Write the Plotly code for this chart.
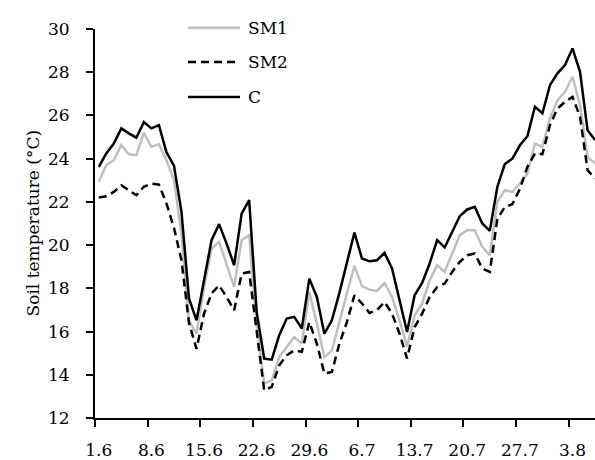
import plotly.graph_objects as go

# Dates (day.month), one value per day from 1.6 to 6.8
tick_labels = ["1.6", "8.6", "15.6", "22.6", "29.6", "6.7", "13.7", "20.7", "27.7", "3.8"]

sm1 = [22.93, 23.7, 23.93, 24.63, 24.2, 24.16, 25.2, 24.55, 24.67, 23.93,
       23.0, 20.5, 16.5, 15.9, 18.06, 19.84, 20.15, 19.15, 18.06, 20.23,
       20.46, 16.3, 13.59, 13.74, 14.82, 15.29, 15.75, 15.44, 17.83, 16.37,
       14.82, 15.13, 16.48, 17.76, 19.04, 18.1, 17.94, 17.88, 18.25, 17.6,
       16.52, 15.29, 16.75, 17.3, 18.37, 19.07, 18.76, 19.61, 20.46, 20.69,
       20.69, 19.92, 19.53, 22.0, 22.54, 22.46, 22.85, 23.31, 24.7, 24.55,
       25.86, 26.7, 27.09, 27.79, 26.48, 24.08, 23.78]

sm2 = [22.2, 22.26, 22.46, 22.77, 22.54, 22.31, 22.7, 22.85, 22.8, 21.93,
       20.8, 19.3, 16.4, 15.2, 16.83, 17.76, 18.14, 17.6, 16.99, 18.68,
       18.76, 16.0, 13.28, 13.44, 14.44, 14.9, 15.13, 15.06, 16.44, 15.44,
       14.06, 14.13, 15.44, 16.44, 17.68, 17.3, 16.86, 16.99, 17.37, 16.83,
       15.9, 14.75, 16.2, 16.83, 17.6, 18.06, 18.22, 18.76, 19.22, 19.53,
       19.61, 18.92, 18.76, 21.2, 21.77, 21.89, 22.6, 23.62, 24.24, 24.21,
       25.55, 26.32, 26.63, 26.86, 25.94, 23.47, 23.08]

c = [23.62, 24.24, 24.7, 25.4, 25.17, 24.97, 25.7, 25.4, 25.55, 24.3,
     23.68, 21.54, 17.53, 16.52, 18.37, 20.23, 20.97, 20.07, 19.07, 21.46,
     22.08, 16.9, 14.75, 14.7, 15.83, 16.6, 16.68, 16.14, 18.45, 17.6,
     15.9, 16.52, 17.79, 19.22, 20.58, 19.38, 19.25, 19.3, 19.64, 18.92,
     17.45, 15.98, 17.68, 18.25, 19.15, 20.23, 19.89, 20.61, 21.34, 21.65,
     21.77, 21.0, 20.66, 22.69, 23.75, 24.0, 24.62, 25.04, 26.4, 26.1,
     27.4, 27.95, 28.33, 29.1, 28.02, 25.32, 24.86]

series_names = ["SM1", "SM2", "C"]

days = list(range(len(c)))
label_pos = [7 * i for i in range(len(tick_labels))]
boundary_pos = [p - 0.5 for p in label_pos]

FONT = "DejaVu Serif"
FS = 17
GRAY = "#BFBFBF"
DASH = "8px,5px"
LW = 2.5

fig = go.Figure()
fig.add_trace(go.Scatter(x=days, y=sm1, mode="lines", name=series_names[0],
                         line=dict(color=GRAY, width=LW), showlegend=False))
fig.add_trace(go.Scatter(x=days, y=sm2, mode="lines", name=series_names[1],
                         line=dict(color="black", width=LW, dash=DASH), showlegend=False))
fig.add_trace(go.Scatter(x=days, y=c, mode="lines", name=series_names[2],
                         line=dict(color="black", width=LW), showlegend=False))

# manual legend (line sample + label) at top of plot
leg_rows = [1.003, 0.915, 0.825]
leg_styles = [dict(color=GRAY, width=LW), dict(color="black", width=LW, dash=DASH),
              dict(color="black", width=LW)]
for name, yy, st in zip(series_names, leg_rows, leg_styles):
    fig.add_shape(type="line", xref="paper", yref="paper", x0=0.186, x1=0.29,
                  y0=yy, y1=yy, line=st)
    fig.add_annotation(xref="paper", yref="paper", x=0.302, y=yy, text=name,
                       showarrow=False, xanchor="left", yanchor="middle",
                       font=dict(family=FONT, size=FS, color="black"))

fig.add_annotation(xref="paper", yref="paper", x=-0.126, y=0.5,
                   text="Soil temperature (°C)", textangle=-90, showarrow=False,
                   xanchor="center", yanchor="middle",
                   font=dict(family=FONT, size=FS, color="black"))

fig.update_layout(
    width=595, height=460,
    margin=dict(l=95, r=0, t=29, b=42),
    paper_bgcolor="white", plot_bgcolor="white",
    font=dict(family=FONT, size=FS, color="black"),
    showlegend=False,
)
fig.update_xaxes(
    range=[-0.5, 65.99],
    tickmode="array", tickvals=label_pos, ticktext=tick_labels,
    ticks="", showgrid=False, zeroline=False,
    showline=True, linecolor="black", linewidth=2,
    ticklabelstandoff=16,
    minor=dict(tickmode="array", tickvals=boundary_pos, ticks="outside",
               ticklen=7, tickwidth=1.5, tickcolor="black", showgrid=False),
)
fig.update_yaxes(
    range=[12, 30], tickmode="linear", tick0=12, dtick=2,
    ticks="outside", ticklen=7, tickwidth=1.5, tickcolor="black",
    showgrid=False, zeroline=False,
    showline=True, linecolor="black", linewidth=2,
    ticklabelstandoff=13,
)

fig.write_html("out.html")
